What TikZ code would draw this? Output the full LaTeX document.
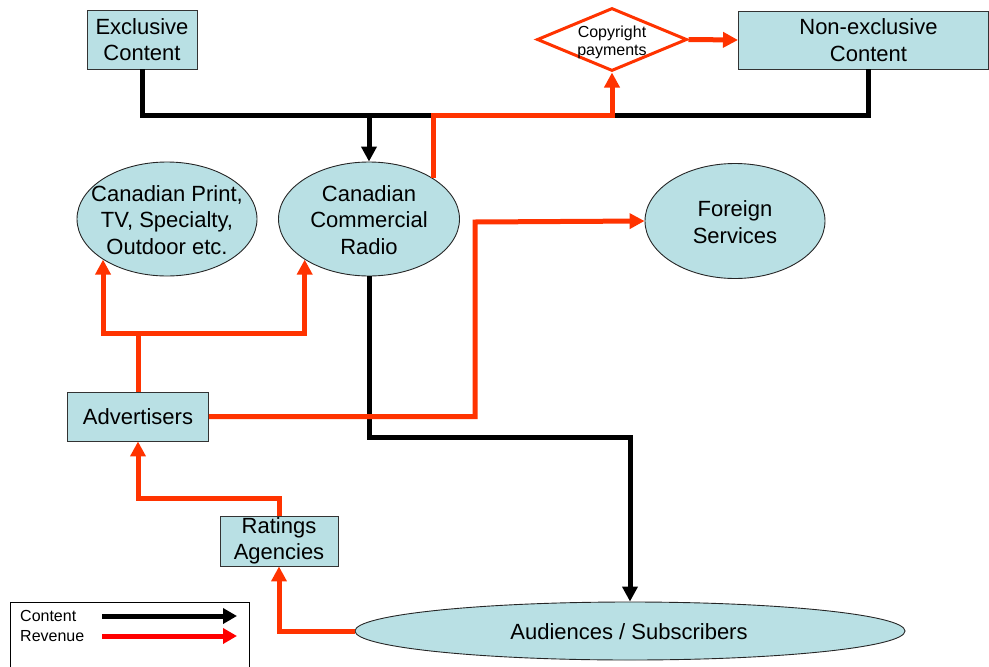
\documentclass[tikz,border=0pt]{standalone}
\usepackage{fontspec}
\setmainfont{Liberation Sans}
\usetikzlibrary{shapes.geometric,arrows.meta}
\definecolor{boxfill}{RGB}{185,224,228}
\definecolor{revred}{RGB}{255,51,0}
\definecolor{legred}{RGB}{255,0,0}
\tikzset{
  box/.style={draw=black!80, line width=0.9pt, fill=boxfill, align=center, inner sep=0pt, font=\fontsize{22}{26.5}\selectfont},
  oval/.style={ellipse, draw=black!85, line width=0.9pt, fill=boxfill, align=center, inner sep=0pt, font=\fontsize{22}{26.5}\selectfont},
  label text/.style={align=center, inner sep=0pt, font=\fontsize{22}{26.5}\selectfont},
  contentline/.style={line width=5pt, draw=black, line join=miter},
  revline/.style={line width=5pt, draw=revred, line join=miter},
  tip/.style={-{Triangle[length=15pt,width=15pt]}},
}
\begin{document}
\begin{tikzpicture}[x=1pt,y=-1pt]
\useasboundingbox (0,0) rectangle (989,667);
% nodes
\node[box, minimum width=110pt, minimum height=59pt] (exc) at (142,39.5) {Exclusive\\Content};
\node[box, minimum width=250pt, minimum height=58pt, anchor=west] (nonex) at (738,40) {\hspace*{10pt}Non-exclusive\\\hspace*{10pt}Content};
\node[diamond, draw=revred, line width=3pt, fill=white, minimum width=150pt, minimum height=63pt, inner sep=0pt] (copy) at (612,39.5) {};
\node[align=center, inner sep=0pt, font=\fontsize{16}{18}\selectfont] (copytext) at (612,42) {Copyright\\payments};
\node[oval, minimum width=180pt, minimum height=114pt] (print) at (167,219) {};
\node[label text] (printtext) at (167,220) {Canadian Print,\\TV, Specialty,\\Outdoor etc.};
\node[oval, minimum width=181pt, minimum height=114pt] (radio) at (369,219) {};
\node[label text] (radiotext) at (369,220) {Canadian\\Commercial\\Radio};
\node[oval, minimum width=180pt, minimum height=115pt] (foreign) at (735,221) {};
\node[label text] (foreigntext) at (735,222) {Foreign\\Services};
\node[box, minimum width=141pt, minimum height=49pt] (adv) at (138,416.5) {Advertisers};
\node[box, minimum width=118pt, minimum height=50pt] (rat) at (279,541) {Ratings\\Agencies};
\node[oval, minimum width=550pt, minimum height=58pt] (aud) at (630,631) {};
\node[label text] (audtext) at (629,632) {Audiences / Subscribers};
% junction coordinates
\coordinate (jt) at (369,115);
\coordinate (cr) at (612,115);
\coordinate (bj) at (369,437);
\coordinate (aj) at (138,333);
\coordinate (fj) at (475,222);
\coordinate (gj) at (279,498);
\coordinate (nxs) at (868,69);
% content connectors
\draw[contentline] (exc.south) |- (jt) -| (nxs);
\draw[contentline, tip] (jt) -- (radio.north);
\draw[contentline, tip] (radio.south) -- (bj) -| (aud.north);
% revenue connectors
\draw[revline, tip] (radio.north east) |- (cr) -- (copy.south);
\draw[revline, tip] (copy.east) -- (nonex.west);
\draw[revline] (adv.north) -- (aj);
\draw[revline, tip] (aj) -| (print.south west);
\draw[revline, tip] (aj) -| (radio.south west);
\draw[revline, tip] (adv.east) -| (fj) -- (foreign.west);
\draw[revline, tip] (rat.north) -- (gj) -| (adv.south);
\draw[revline, tip] (aud.west) -| (rat.south);
% legend
\node[draw=black, line width=1pt, minimum width=239pt, minimum height=80pt, anchor=north west, inner sep=0pt] (legend) at (10,602) {};
\node[anchor=west, inner sep=0pt, font=\fontsize{16}{18}\selectfont] (lc) at (20,616) {Content};
\node[anchor=west, inner sep=0pt, font=\fontsize{16}{18}\selectfont] (lr) at (20,636) {Revenue};
\coordinate (lc1) at (102,616);
\coordinate (lc2) at (237,616);
\coordinate (lr1) at (102,636);
\coordinate (lr2) at (237,636);
\draw[line width=5pt, draw=black, -{Triangle[length=14pt,width=15pt]}] (lc1) -- (lc2);
\draw[line width=5pt, draw=legred, -{Triangle[length=14pt,width=15pt]}] (lr1) -- (lr2);
\end{tikzpicture}
\end{document}
